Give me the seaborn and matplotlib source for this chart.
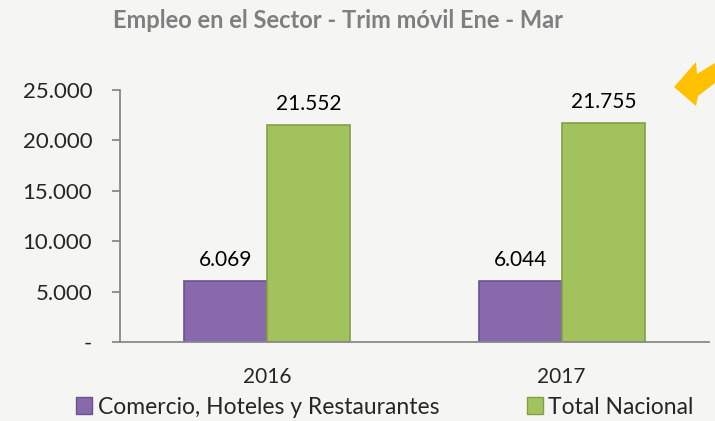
import pandas as pd
import numpy as np
import matplotlib
matplotlib.use("Agg")
from matplotlib import pyplot as plt
from matplotlib.patches import Polygon, Patch
import seaborn as sns

# datos (miles de personas)
years = ["2016", "2017"]
series = ["Comercio, Hoteles y Restaurantes", "Total Nacional"]
comercio = [6069, 6044]
total = [21552, 21755]
yticks = [0, 5000, 10000, 15000, 20000, 25000]

df = pd.DataFrame({
    "year": years * 2,
    "serie": [series[0]] * 2 + [series[1]] * 2,
    "valor": comercio + total,
})

bg = "#f5f5f3"
gris = "#898989"
colores = {series[0]: "#8869ac", series[1]: "#a2c25e"}
bordes = {series[0]: "#6c5290", series[1]: "#84a046"}

sns.set_theme(style="white")
plt.rcParams["font.family"] = ["Lato", "DejaVu Sans"]

fig = plt.figure(figsize=(7.15, 4.21), dpi=100, facecolor=bg)
ax = fig.add_axes([120 / 715, 1 - 342 / 421, 589 / 715, 252 / 421])
ax.set_facecolor(bg)

sns.barplot(data=df, x="year", y="valor", hue="serie", palette=colores,
            width=0.565, saturation=1, ax=ax, legend=False)

for cont, s in zip(ax.containers, series):
    for b in cont:
        b.set_edgecolor(bordes[s])
        b.set_linewidth(1.2)
    ax.bar_label(cont, fmt=lambda v: f"{v:,.0f}".replace(",", "."),
                 padding=8, fontsize=15, color="black")

ax.set_xlim(-0.5, 1.5)
ax.set_ylim(0, 25000)
ax.set_yticks(yticks)
ax.set_yticklabels(["-" if v == 0 else f"{v:,}".replace(",", ".") for v in yticks])
ax.set_xticks([-0.5, 0.5, 1.5], minor=True)
ax.tick_params(axis="x", which="major", length=0, pad=18, labelsize=15)
ax.tick_params(axis="x", which="minor", length=6, width=1.3, color=gris, direction="out")
ax.tick_params(axis="y", length=6, width=1.3, color=gris, pad=14, labelsize=16, left=True)
ax.set_xlabel("")
ax.set_ylabel("")
sns.despine(ax=ax)
for sp in ["left", "bottom"]:
    ax.spines[sp].set_color(gris)
    ax.spines[sp].set_linewidth(1.3)

fig.text(338 / 715, 1 - 21 / 421, "Empleo en el Sector - Trim móvil Ene - Mar",
         ha="center", va="center", fontsize=17, fontweight="bold", color="#7f7f7f")

handles = [Patch(facecolor=colores[s], edgecolor=bordes[s]) for s in series]
fig.legend(handles, series, loc="center", bbox_to_anchor=(385 / 715, 1 - 407 / 421),
           ncol=2, frameon=False, fontsize=16.5, handlelength=0.7, handleheight=0.7,
           handletextpad=0.25, columnspacing=3.8)

# flecha decorativa
pts = [(674, 87), (696, 62), (697, 74), (715, 63), (715, 83), (698, 96), (696, 106)]
fig.patches.append(Polygon([(x / 715, 1 - y / 421) for x, y in pts], closed=True,
                           transform=fig.transFigure, facecolor="#ffc000", edgecolor="none"))

fig.savefig("out.png", dpi=100, facecolor=bg)
